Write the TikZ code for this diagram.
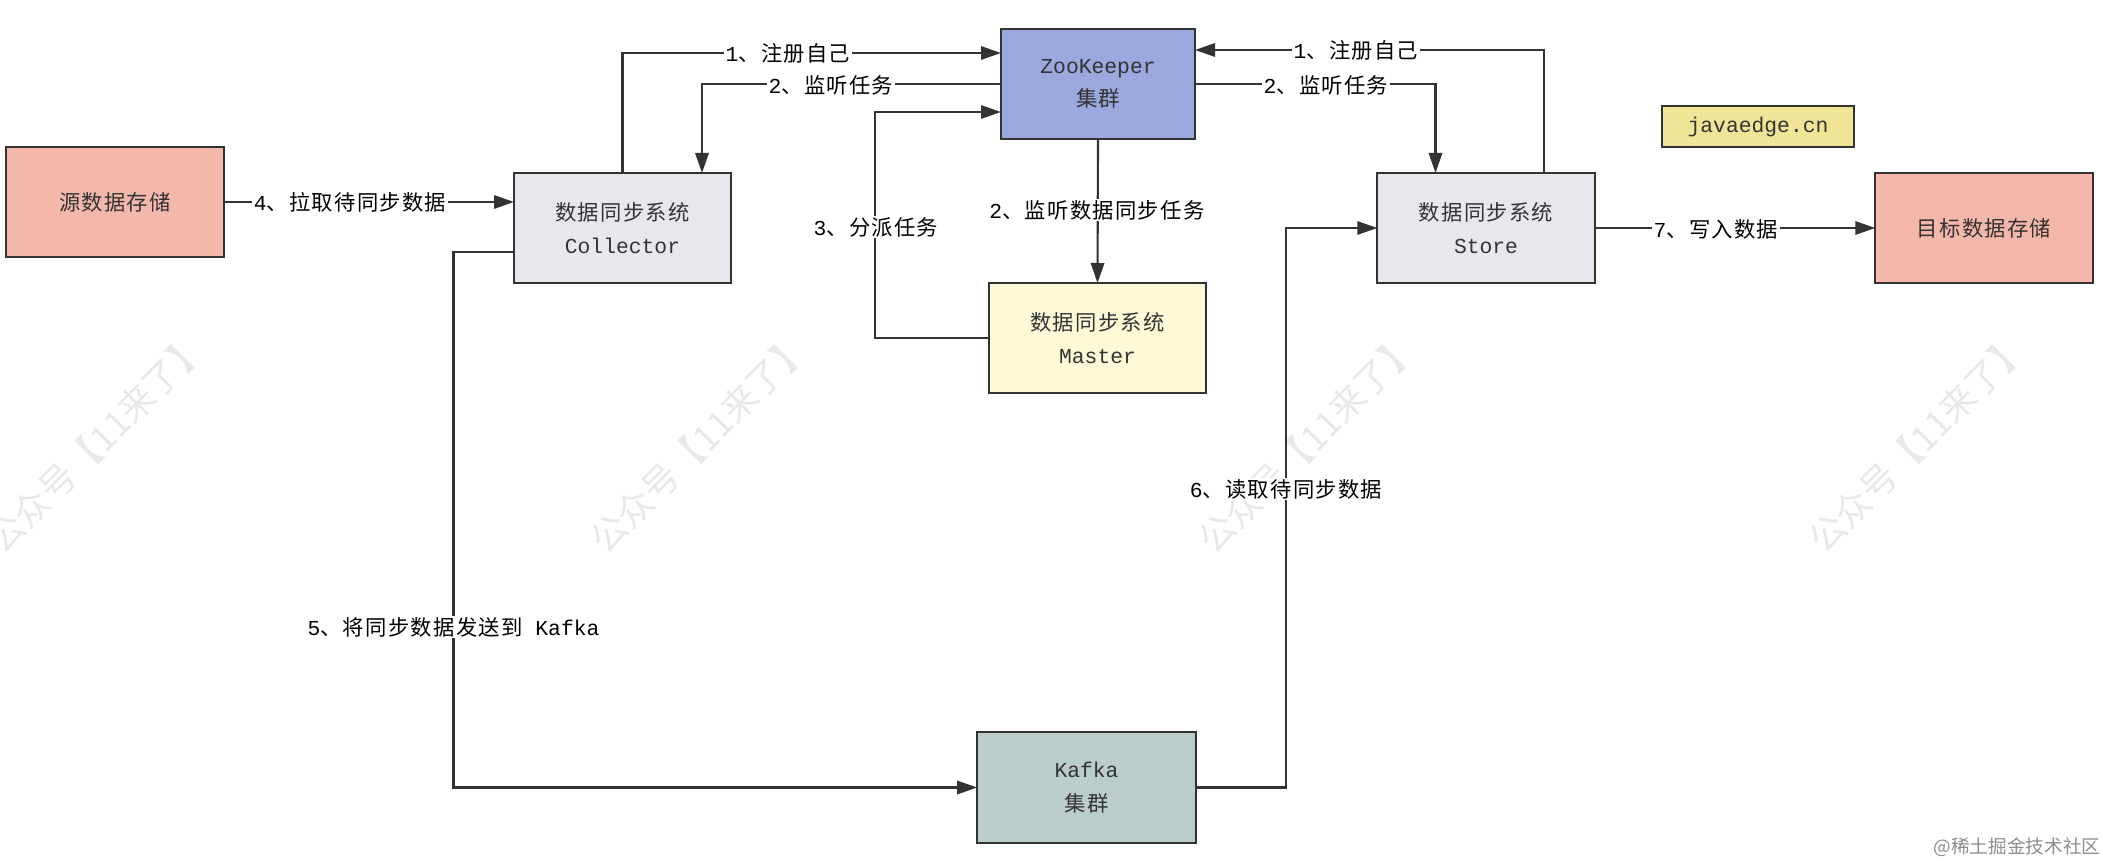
\documentclass[tikz,border=0pt]{standalone}
\usepackage{fontspec}
\setmainfont{Liberation Mono}
\newfontfamily\cjk[LetterSpace=6]{Noto Sans CJK SC}
\newfontfamily\cjkplain{Noto Sans CJK SC}
\newcommand{\zh}[1]{{\cjk #1}}
\usetikzlibrary{arrows.meta}
\definecolor{linegray}{HTML}{333333}
\definecolor{storered}{HTML}{F4B8AB}
\definecolor{syspurple}{HTML}{EAE6EE}
\definecolor{zkblue}{HTML}{9BA8DE}
\definecolor{masteryellow}{HTML}{FDF9D7}
\definecolor{kafkagreen}{HTML}{BACDCB}
\definecolor{siteyellow}{HTML}{F0E596}
\tikzset{
 box/.style={draw=linegray, line width=1.6pt, text=linegray, inner sep=0, outer sep=0,
  align=center, font=\fontsize{16}{25}\selectfont},
 lbl/.style={fill=white, text=black, inner sep=1pt, font=\fontsize{16}{25}\selectfont},
 conn/.style={draw=linegray, line width=1.6pt, ->, >={Triangle[length=15pt,width=10pt]}},
 plainline/.style={draw=linegray, line width=1.6pt},
}
\begin{document}
\begin{tikzpicture} [x=.75pt,y=-.75pt]
\useasboundingbox (0,0) rectangle (2103,863);
\clip (0,0) rectangle (2103,863);
% watermark
\foreach \x/\n in {97/a,700/b,1308/c,1918/d} {
 \node[rotate=45, text=black!9, font=\cjkplain\fontsize{27}{27}\selectfont] (mark\n) at (\x,443) {公众号【11来了】};
}
\node[text=black!45, inner sep=0, font=\cjkplain\fontsize{14}{14}\selectfont] (credit) at (2017,847) {@稀土掘金技术社区};
% boxes
\node[box, fill=storered, minimum width=163.5pt, minimum height=82.5pt] (source) at (115,202) {\zh{源数据存储}};
\node[box, fill=syspurple, minimum width=163pt, minimum height=82.5pt] (collector) at (622.5,228) {\zh{数据同步系统}\\Collector};
\node[box, fill=zkblue, minimum width=145.5pt, minimum height=82.5pt] (zk) at (1098,84) {ZooKeeper\\\zh{集群}};
\node[box, fill=masteryellow, minimum width=163pt, minimum height=82.5pt] (master) at (1097.5,338) {\zh{数据同步系统}\\Master};
\node[box, fill=syspurple, minimum width=163pt, minimum height=82.5pt] (store) at (1486,228) {\zh{数据同步系统}\\Store};
\node[box, fill=storered, minimum width=163pt, minimum height=82.5pt] (target) at (1984,228) {\zh{目标数据存储}};
\node[box, fill=kafkagreen, minimum width=164pt, minimum height=83pt] (kafka) at (1086.5,787.5) {Kafka\\\zh{集群}};
\node[box, fill=siteyellow, minimum width=144pt, minimum height=31pt] (site) at (1758,126.5) {javaedge.cn};
% free ends on the box sides
\coordinate (zkinleft) at (1001,53);
\coordinate (zkinmaster) at (1001,112);
\coordinate (zkinright) at (1195,50);
\coordinate (colintop) at (702,173);
\coordinate (colinleft) at (514,202);
\coordinate (coloutleft) at (514,252);
\coordinate (storeintop) at (1435.5,173);
\coordinate (storeouttop) at (1544,173);
\coordinate (bendmaster) at (875,112);
\coordinate (bendkafka) at (453.5,600);
\coordinate (bendread) at (1286,500);
% connectors
\draw[conn] (collector.north) |- (zkinleft);
\draw[conn] (zk.west) -| (colintop);
\draw[conn] (master.west) -| (bendmaster) -- (zkinmaster);
\draw[conn] (source.east |- colinleft) -- (colinleft);
\draw[conn] (zk.south) -- (master.north);
\draw[conn] (storeouttop) |- (zkinright);
\draw[conn] (zk.east) -| (storeintop);
\draw[conn] (store.east) -- (target.west);
\draw[conn] (coloutleft) -| (bendkafka) |- (kafka.west);
\draw[conn] (kafka.east) -| (bendread) |- (store.west);
% labels
\node[lbl] (regleft) at (788,53) {1\zh{、注册自己}};
\node[lbl] (taskleft) at (831,85) {2\zh{、监听任务}};
\node[lbl] (assign) at (876,227) {3\zh{、分派任务}};
\node[lbl] (pull) at (350,202) {4\zh{、拉取待同步数据}};
\node[lbl] (syncjob) at (1097,210) {2\zh{、监听数据同步任务}};
\node[lbl] (regright) at (1356,50) {1\zh{、注册自己}};
\node[lbl] (taskright) at (1326,85) {2\zh{、监听任务}};
\node[lbl] (write) at (1716,229) {7\zh{、写入数据}};
\node[lbl] (send) at (453.5,627) {5\zh{、将同步数据发送到} Kafka};
\node[lbl] (read) at (1286,489) {6\zh{、读取待同步数据}};
\end{tikzpicture}
\end{document}
